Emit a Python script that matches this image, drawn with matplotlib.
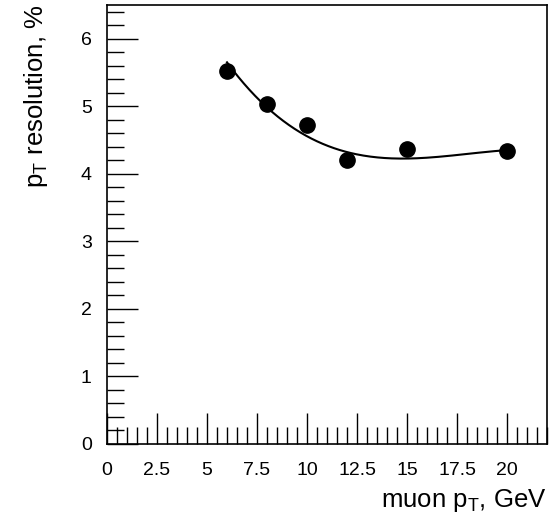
import numpy as np
import matplotlib
matplotlib.use("Agg")
import matplotlib.pyplot as plt
from matplotlib.ticker import MultipleLocator

plt.rcParams['font.family'] = ['Liberation Sans', 'DejaVu Sans']
plt.rcParams['mathtext.fontset'] = 'custom'
plt.rcParams['mathtext.rm'] = 'Liberation Sans'
plt.rcParams['mathtext.it'] = 'Liberation Sans'

# muon pT (GeV) and measured pT resolution (%)
muon_pt = [6, 8, 10, 12, 15, 20]
resolution = [5.53, 5.03, 4.72, 4.20, 4.37, 4.34]

# pol3 fit parameters, highest order first
fit_par = [-0.00099676, 0.0539562, -0.941514, 9.57315]

x_ticks = [0, 2.5, 5, 7.5, 10, 12.5, 15, 17.5, 20]
x_tick_labels = ["0", "2.5", "5", "7.5", "10", "12.5", "15", "17.5", "20"]
y_ticks = [0, 1, 2, 3, 4, 5, 6]

xf = np.linspace(min(muon_pt), max(muon_pt), 200)
yf = np.polyval(fit_par, xf)

fig = plt.figure(figsize=(5.55, 5.20), dpi=100)
ax = fig.add_axes([107 / 555, 76 / 520, 440 / 555, 439 / 520])

ax.plot(xf, yf, color='black', lw=1.5, zorder=2)
ax.plot(muon_pt, resolution, 'o', color='black', ms=11, zorder=3)

ax.set_xlim(0, 22)
ax.set_ylim(0, 6.5)

ax.set_xticks(x_ticks)
ax.set_xticklabels(x_tick_labels)
ax.set_yticks(y_ticks)
ax.xaxis.set_minor_locator(MultipleLocator(0.5))
ax.yaxis.set_minor_locator(MultipleLocator(0.2))

ax.tick_params(which='both', direction='in', top=False, right=False,
               labelsize=14, width=1)
ax.tick_params(which='major', length=22)
ax.tick_params(which='minor', length=12)
ax.tick_params(axis='x', which='major', pad=13)
ax.tick_params(axis='y', which='major', pad=11)

for s in ax.spines.values():
    s.set_linewidth(1.2)

ax.set_xlabel(r"muon p$_\mathregular{T}$, GeV", fontsize=18.5, ha='right', x=1.0, labelpad=6)
ax.set_ylabel(r"p$_\mathregular{T}$ resolution, %", fontsize=18.5, ha='right', y=1.0, labelpad=22)

fig.savefig("out.png", dpi=100)
